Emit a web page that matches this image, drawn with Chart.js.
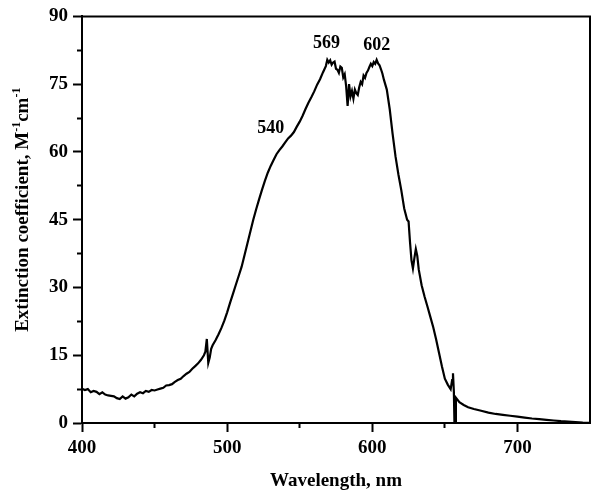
<!DOCTYPE html>
<html>
<head>
<meta charset="utf-8">
<script src="https://cdn.jsdelivr.net/npm/chart.js@4/dist/chart.umd.min.js"></script>
<style>
  body { margin: 0; background: #fff; }
  canvas { display: block; }
</style>
</head>
<body>
<canvas id="spectrum" width="600" height="495"></canvas>
<script>
// Spectrum (nm, M^-1 cm^-1)
const wavelength = [
  400, 402, 404, 406, 408, 410, 412, 414, 416, 418, 420, 422, 424, 426, 428, 430,
  432, 434, 436, 438, 440, 442, 444, 446, 448, 450, 452, 454, 456, 458, 460, 462,
  464, 466, 468, 470, 472, 474, 476, 478, 480, 482, 484, 485, 486, 487, 488, 489,
  490, 492, 494, 496, 498, 500, 502, 504, 506, 508, 510, 512, 514, 516, 518, 520,
  522, 524, 526, 528, 530, 532, 534, 536, 538, 540, 542, 544, 546, 548, 550, 552,
  554, 556, 558, 560, 562, 564, 566, 568, 569, 570, 571, 572, 573, 574, 575, 576,
  577, 578, 579, 580, 581, 582, 583, 584, 585, 586, 587, 588, 589, 590, 591, 592,
  593, 594, 595, 596, 597, 598, 599, 600, 601, 602, 603, 604, 605, 606, 607, 608,
  610, 612, 614, 616, 618, 620, 622, 624, 625, 626, 627, 628, 629, 630, 631, 632,
  634, 636, 638, 640, 642, 644, 646, 648, 650, 652, 654, 655, 655.6, 656.2, 656.6, 657.2,
  657.6, 660, 663, 666, 670, 675, 680, 685, 690, 695, 700, 705, 710, 715, 720, 725,
  730, 735, 740, 745, 750
];
const extinction = [
  7.6, 7.3, 7.5, 6.8, 7.1, 6.9, 6.4, 6.8, 6.3, 6.1, 6.0, 5.9, 5.5, 5.3, 5.9, 5.4,
  5.7, 6.3, 5.9, 6.5, 6.8, 6.6, 7.1, 6.9, 7.3, 7.2, 7.4, 7.6, 7.8, 8.3, 8.4, 8.6,
  9.1, 9.5, 9.8, 10.4, 10.9, 11.3, 12.0, 12.6, 13.2, 14.0, 15.0, 15.8, 18.6, 13.3, 14.5, 16.4,
  17.2, 18.3, 19.6, 21.0, 22.6, 24.5, 26.6, 28.6, 30.6, 32.6, 34.6, 37.2, 39.8, 42.4, 45.0, 47.3,
  49.5, 51.6, 53.6, 55.4, 56.9, 58.2, 59.5, 60.4, 61.2, 62.1, 63.0, 63.6, 64.4, 65.6, 66.7, 68.0,
  69.5, 70.9, 72.1, 73.4, 74.9, 76.1, 77.6, 79.0, 80.4, 79.8, 80.3, 79.3, 79.8, 80.0, 78.4, 78.2,
  77.5, 78.9, 78.6, 76.5, 77.2, 74.5, 70.2, 75.0, 72.3, 73.5, 71.8, 73.8, 73.0, 72.6, 74.3, 75.5,
  75.0, 76.9, 76.4, 77.5, 78.0, 78.8, 79.5, 79.0, 79.9, 79.5, 80.4, 79.6, 79.2, 78.3, 77.3, 76.0,
  73.8, 69.5, 64.0, 59.0, 55.0, 51.5, 47.5, 45.0, 44.6, 40.0, 36.0, 34.2, 36.5, 38.5, 37.0, 34.0,
  30.5, 28.0, 25.8, 23.5, 21.2, 18.5, 15.5, 12.5, 9.8, 8.5, 7.5, 9.5, 11.0, 7.0, 0.2, 0.0,
  5.6, 4.6, 4.0, 3.5, 3.1, 2.7, 2.3, 2.0, 1.8, 1.6, 1.4, 1.2, 1.0, 0.85, 0.7, 0.55,
  0.4, 0.3, 0.2, 0.1, 0.05
];

// Axis ticks
const xMajorTicks = [400, 500, 600, 700];
const xMinorTicks = [450, 550, 650];
const yMajorTicks = [0, 15, 30, 45, 60, 75, 90];
const yMinorTicks = [7.5, 22.5, 37.5, 52.5, 67.5, 82.5];

// Peak annotations
const peakLabels = ['540', '569', '602'];

const serif = 'Liberation Serif, Times New Roman, serif';

// Draws the peak numbers at their spots on the data scales
const peakLabelPlugin = {
  id: 'peakLabels',
  afterDatasetsDraw(chart, args, opts) {
    const ctx = chart.ctx;
    const xs = chart.scales.x, ys = chart.scales.y;
    ctx.save();
    ctx.fillStyle = '#000';
    ctx.font = 'bold 18px ' + serif;
    ctx.textAlign = 'center';
    ctx.textBaseline = 'alphabetic';
    peakLabels.forEach((txt, i) => {
      ctx.fillText(txt, xs.getPixelForValue(opts.at[i][0]), ys.getPixelForValue(opts.at[i][1]));
    });
    ctx.restore();
  }
};

// Top/right frame lines and the y title with superscripts
const framePlugin = {
  id: 'frame',
  afterDraw(chart) {
    const ctx = chart.ctx;
    const a = chart.chartArea;
    ctx.save();
    ctx.strokeStyle = '#000';
    ctx.lineWidth = 2;
    ctx.beginPath();
    ctx.moveTo(a.left, a.top);
    ctx.lineTo(a.right, a.top);
    ctx.lineTo(a.right, a.bottom);
    ctx.stroke();

    // rotated y axis title
    const parts = [
      { t: 'Extinction coefficient, M', sup: false },
      { t: '-1', sup: true },
      { t: 'cm', sup: false },
      { t: '-1', sup: true }
    ];
    const big = 'bold 19px ' + serif, small = 'bold 12px ' + serif;
    let total = 0;
    parts.forEach(p => { ctx.font = p.sup ? small : big; p.w = ctx.measureText(p.t).width; total += p.w; });
    ctx.translate(28, (a.top + a.bottom) / 2 - 10);
    ctx.rotate(-Math.PI / 2);
    ctx.fillStyle = '#000';
    ctx.textBaseline = 'alphabetic';
    ctx.textAlign = 'left';
    let x = -total / 2;
    parts.forEach(p => {
      ctx.font = p.sup ? small : big;
      ctx.fillText(p.t, x, p.sup ? -8 : 0);
      x += p.w;
    });
    ctx.restore();
  }
};

const tickFont = { family: serif, size: 19, weight: 'bold' };

new Chart(document.getElementById('spectrum'), {
  type: 'line',
  data: {
    datasets: [{
      data: wavelength.map((w, i) => ({ x: w, y: extinction[i] })),
      borderColor: '#000',
      borderWidth: 2.2,
      pointRadius: 0,
      tension: 0,
      fill: false
    }]
  },
  options: {
    responsive: false,
    animation: false,
    layout: { padding: { top: 14, right: 10, left: 0, bottom: 0 } },
    plugins: {
      legend: { display: false },
      tooltip: { enabled: false },
      peakLabels: { at: [[530, 64.1], [568.5, 83.0], [603, 82.5]] }
    },
    scales: {
      x: {
        type: 'linear',
        position: 'bottom',
        weight: 1,
        min: 400,
        max: 750,
        afterBuildTicks: s => { s.ticks = xMajorTicks.map(v => ({ value: v })); },
        afterFit: s => { s.height = 72; },
        grid: { drawOnChartArea: false, tickLength: 9, tickWidth: 2, tickColor: '#000' },
        border: { color: '#000', width: 2 },
        ticks: { color: '#000', font: tickFont, padding: 5, maxRotation: 0 },
        title: {
          display: true,
          text: 'Wavelength, nm',
          color: '#000',
          font: tickFont,
          padding: { top: 0, bottom: 3 }
        }
      },
      xMinor: {
        type: 'linear',
        position: 'bottom',
        weight: 0,
        min: 400,
        max: 750,
        afterBuildTicks: s => { s.ticks = xMinorTicks.map(v => ({ value: v })); },
        afterFit: s => { s.height = 0; },
        grid: { drawOnChartArea: false, tickLength: 5, tickWidth: 2, tickColor: '#000' },
        border: { display: false },
        ticks: { display: false }
      },
      y: {
        type: 'linear',
        position: 'left',
        weight: 1,
        min: 0,
        max: 90,
        afterBuildTicks: s => { s.ticks = yMajorTicks.map(v => ({ value: v })); },
        afterFit: s => { s.width = 82; },
        grid: { drawOnChartArea: false, tickLength: 9, tickWidth: 2, tickColor: '#000' },
        border: { color: '#000', width: 2 },
        ticks: { color: '#000', font: tickFont, padding: 5 }
      },
      yMinor: {
        type: 'linear',
        position: 'left',
        weight: 0,
        min: 0,
        max: 90,
        afterBuildTicks: s => { s.ticks = yMinorTicks.map(v => ({ value: v })); },
        afterFit: s => { s.width = 0; },
        grid: { drawOnChartArea: false, tickLength: 5, tickWidth: 2, tickColor: '#000' },
        border: { display: false },
        ticks: { display: false }
      }
    }
  },
  plugins: [peakLabelPlugin, framePlugin]
});
</script>
</body>
</html>
